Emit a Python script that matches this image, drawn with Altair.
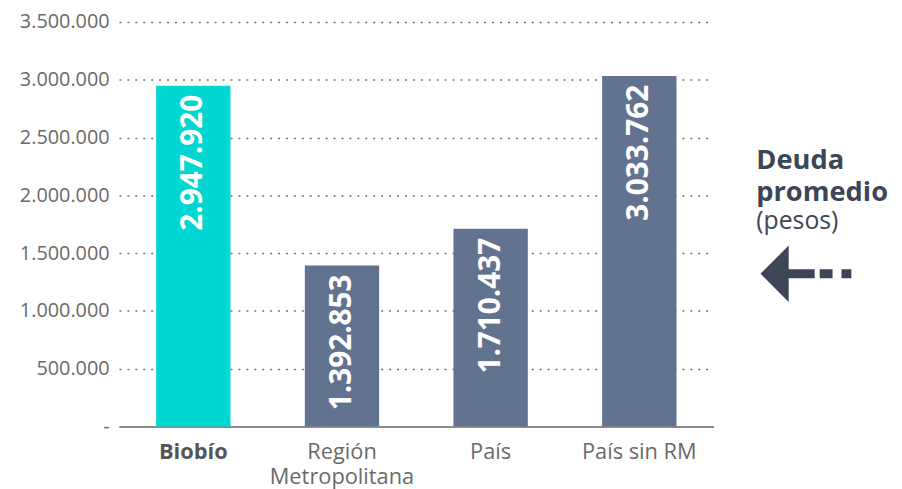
import altair as alt
import pandas as pd

categories = ["Biobío", "Región Metropolitana", "País", "País sin RM"]
values = [2947920, 1392853, 1710437, 3033762]
bar_colors = ["#00d6d2", "#627390", "#627390", "#627390"]
y_ticks = [0, 500000, 1000000, 1500000, 2000000, 2500000, 3000000, 3500000]
bar_labels = [f"{v:,}".replace(",", ".") for v in values]
note_lines = ["Deuda", "promedio", "(pesos)"]

FONT = "Open Sans"
DARK = "#3d4656"

df = pd.DataFrame({"cat": categories, "val": values, "label": bar_labels, "color": bar_colors})

x = alt.X(
    "cat:N",
    sort=categories,
    title=None,
    scale=alt.Scale(paddingInner=0.5, paddingOuter=0.25),
    axis=alt.Axis(
        labelAngle=0,
        labelFont=FONT,
        labelFontSize=22,
        labelColor={"condition": {"test": "datum.value === 'Biobío'", "value": "#555555"}, "value": "#6a6a6a"},
        labelFontWeight={"condition": {"test": "datum.value === 'Biobío'", "value": "bold"}, "value": "normal"},
        labelExpr="datum.value === 'Región Metropolitana' ? ['Región', 'Metropolitana'] : datum.label",
        labelLineHeight=26,
        labelPadding=15,
        labelLimit=400,
        ticks=False,
        domainColor="#8c8c8c",
        domainWidth=2,
        grid=False,
    ),
)

y = alt.Y(
    "val:Q",
    title=None,
    scale=alt.Scale(domain=[0, 3500000], nice=False),
    axis=alt.Axis(
        values=y_ticks,
        format=",d",
        labelExpr="datum.value === 0 ? '-' : replace(datum.label, /,/g, '.')",
        labelFont=FONT,
        labelFontSize=20,
        labelColor="#6a6a6a",
        labelPadding=10,
        ticks=False,
        domain=False,
        grid=True,
        gridColor="#707070",
        gridDash=[2, 6],
        gridWidth=1.5,
    ),
)

bars = alt.Chart(df).mark_bar().encode(
    x=x,
    y=y,
    color=alt.Color("color:N", scale=None),
)

texts = alt.Chart(df).mark_text(
    angle=270, align="right", baseline="middle", dx=-9,
    fontSize=30, fontWeight="bold", color="white", font=FONT,
).encode(
    x=alt.X("cat:N", sort=categories),
    y=alt.Y("val:Q"),
    text="label:N",
)

def note(i, yv, weight, size):
    return alt.Chart(pd.DataFrame({"t": [note_lines[i]]})).mark_text(
        align="left", baseline="alphabetic", font=FONT, fontSize=size,
        fontWeight=weight, color=DARK,
    ).encode(text="t:N", x=alt.value(643), y=alt.value(yv))

n1 = note(0, 148, "bold", 27.5)
n2 = note(1, 181, "bold", 27.5)
n3 = note(2, 209, "normal", 25)

head = alt.Chart(pd.DataFrame({"k": [1]})).mark_point(
    shape="M0.5,-1L-0.5,0L0.5,1Z", filled=True, size=3249, color=DARK, opacity=1, strokeWidth=0,
).encode(x=alt.value(661.5), y=alt.value(254))

shaft = alt.Chart(pd.DataFrame({"k": [1]})).mark_rule(
    strokeWidth=9, color=DARK, strokeDash=[27, 5, 13, 9, 10, 60],
).encode(x=alt.value(675), x2=alt.value(739), y=alt.value(254))

chart = alt.layer(bars, texts, n1, n2, n3, shaft, head).properties(
    width=600,
    height=408,
    padding={"left": 112, "top": 12, "right": 182, "bottom": 61},
    autosize=alt.AutoSizeParams(type="none"),
).configure_view(stroke=None)

chart.save("out.html", embed_options={"renderer": "svg", "actions": False})
